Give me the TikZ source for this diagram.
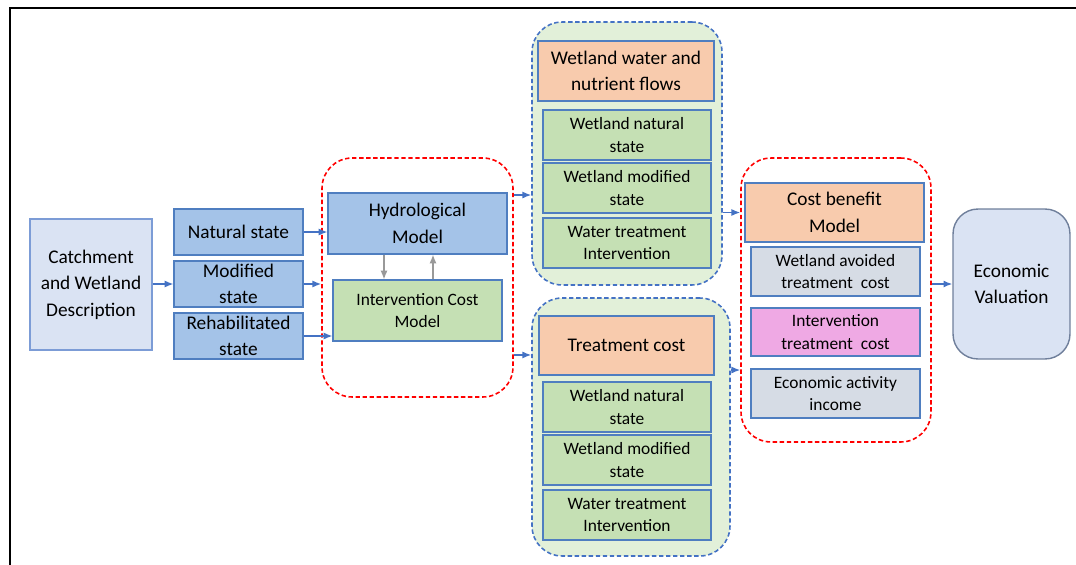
\documentclass[tikz,border=0pt]{standalone}
\usepackage{fontspec}
\setmainfont{Carlito}
\usepackage{tikz}
\usetikzlibrary{arrows.meta}
\definecolor{boxline}{HTML}{4F7EC0}
\definecolor{arrowblue}{HTML}{4472C4}
\definecolor{paleblue}{HTML}{DAE3F3}
\definecolor{stateblue}{HTML}{A4C3E8}
\definecolor{leafgreen}{HTML}{C5E0B4}
\definecolor{palegreen}{HTML}{E2F0D9}
\definecolor{peach}{HTML}{F8CBAD}
\definecolor{slate}{HTML}{D6DCE5}
\definecolor{orchid}{HTML}{EFA9E4}
\definecolor{valueline}{HTML}{6F7F9B}
\begin{document}
\begin{tikzpicture}[x=0.02cm, y=-0.02cm, ->, >={Latex[length=5pt,width=4pt]}]
  \tikzstyle{bigtext}=[font=\fontsize{11}{15}\selectfont, align=center, inner sep=0pt]
  \tikzstyle{smalltext}=[font=\fontsize{9.9}{13}\selectfont, align=center, inner sep=0pt]
  \tikzstyle{flatbox}=[rectangle, draw=boxline, line width=0.6pt]
  \tikzstyle{statebox}=[flatbox, bigtext, fill=stateblue]
  \tikzstyle{headbox}=[flatbox, bigtext, fill=peach]
  \tikzstyle{greenbox}=[flatbox, smalltext, fill=leafgreen]
  \tikzstyle{slatebox}=[flatbox, smalltext, fill=slate]
  \tikzstyle{redgroup}=[rectangle, rounded corners=0.6cm, draw=red, line width=0.9pt, dash pattern=on 2.5pt off 1.5pt]
  \tikzstyle{bluegroup}=[rectangle, rounded corners=0.6cm, draw=arrowblue, fill=palegreen, line width=0.9pt, dash pattern=on 2.5pt off 1.5pt]
  \tikzstyle{flow}=[draw=arrowblue, line width=0.8pt]
  \tikzstyle{backflow}=[draw=black!40, line width=0.8pt]
  \useasboundingbox (0,0) rectangle (1076,565);
  \draw[-, line width=1.2pt] (10,565) -- (10,8) -- (1076,8);

  \node[rectangle, draw=arrowblue!70, fill=paleblue, line width=0.6pt, bigtext, minimum width=2.44cm, minimum height=2.62cm] (C_1) at (91,284.5) {Catchment\\and Wetland\\Description};
  \node[statebox, minimum width=2.58cm, minimum height=0.92cm] (S_1) at (238.5,232) {Natural state};
  \node[statebox, minimum width=2.58cm, minimum height=0.92cm] (S_2) at (238.5,284) {Modified\\state};
  \node[statebox, minimum width=2.58cm, minimum height=0.92cm] (S_3) at (238.5,336) {Rehabilitated\\state};

  \node[redgroup, minimum width=3.82cm, minimum height=4.78cm] (R_1) at (417.5,277.5) {};
  \node[statebox, minimum width=3.58cm, minimum height=1.22cm] (H_1) at (417.5,223.5) {Hydrological\\Model};
  \node[greenbox, minimum width=3.38cm, minimum height=1.22cm] (I_1) at (417.5,310.5) {Intervention Cost\\Model};

  \node[bluegroup, minimum width=3.8cm, minimum height=5.26cm] (D_1) at (627,153.5) {};
  \node[headbox, minimum width=3.52cm, minimum height=1.2cm] (F_0) at (626,71) {Wetland water and\\nutrient flows};
  \node[greenbox, minimum width=3.36cm, minimum height=1cm] (F_1) at (627,135) {Wetland natural\\state};
  \node[greenbox, minimum width=3.36cm, minimum height=1cm] (F_2) at (627,188) {Wetland modified\\state};
  \node[greenbox, minimum width=3.36cm, minimum height=1cm] (F_3) at (627,243) {Water treatment\\Intervention};

  \node[bluegroup, minimum width=3.96cm, minimum height=5.16cm] (D_2) at (631,427) {};
  \node[headbox, minimum width=3.5cm, minimum height=1.18cm] (T_0) at (626.5,345.5) {Treatment cost};
  \node[greenbox, minimum width=3.36cm, minimum height=1cm] (T_1) at (627,407) {Wetland natural\\state};
  \node[greenbox, minimum width=3.36cm, minimum height=1cm] (T_2) at (627,460) {Wetland modified\\state};
  \node[greenbox, minimum width=3.36cm, minimum height=1cm] (T_3) at (627,515) {Water treatment\\Intervention};

  \node[redgroup, minimum width=3.8cm, minimum height=5.68cm] (R_2) at (836,300) {};
  \node[headbox, minimum width=3.58cm, minimum height=1.18cm] (B_0) at (834.5,212.5) {Cost benefit\\Model};
  \node[slatebox, minimum width=3.38cm, minimum height=0.98cm] (B_1) at (835.5,271.5) {Wetland avoided\\treatment~ cost};
  \node[flatbox, smalltext, fill=orchid, minimum width=3.38cm, minimum height=0.96cm] (B_2) at (835.5,332) {Intervention\\treatment~ cost};
  \node[slatebox, minimum width=3.38cm, minimum height=0.98cm] (B_3) at (835.5,393.5) {Economic activity\\income};

  \node[rectangle, rounded corners=0.5cm, draw=valueline, fill=paleblue, line width=0.8pt, bigtext, minimum width=2.34cm, minimum height=3cm] (E_1) at (1011.5,284) {Economic\\Valuation};

  \draw[flow] (C_1.east |- S_2.west) -- (S_2.west);
  \draw[flow] (S_1.east) -- (H_1.west |- S_1.east);
  \draw[flow] (S_2.east) -- (R_1.west |- S_2.east);
  \draw[flow] (S_3.east) -- (I_1.west |- S_3.east);
  \draw[backflow] ([xshift=-0.67cm]H_1.south) -- ([xshift=-0.67cm]H_1.south |- I_1.north);
  \draw[backflow] ([xshift=0.31cm]H_1.south |- I_1.north) -- ([xshift=0.31cm]H_1.south);
  \draw[flow] ([yshift=1.65cm]R_1.east) -- ([yshift=1.65cm]R_1.east -| D_1.west);
  \draw[flow] ([yshift=-1.55cm]R_1.east) -- ([yshift=-1.55cm]R_1.east -| D_2.west);
  \draw[flow] (D_1.east |- B_0.west) -- (R_2.west |- B_0.west);
  \draw[flow] ([yshift=1.14cm]D_2.east) -- ([yshift=1.14cm]D_2.east -| R_2.west);
  \draw[flow] (R_2.east |- E_1.west) -- (E_1.west);
\end{tikzpicture}
\end{document}
